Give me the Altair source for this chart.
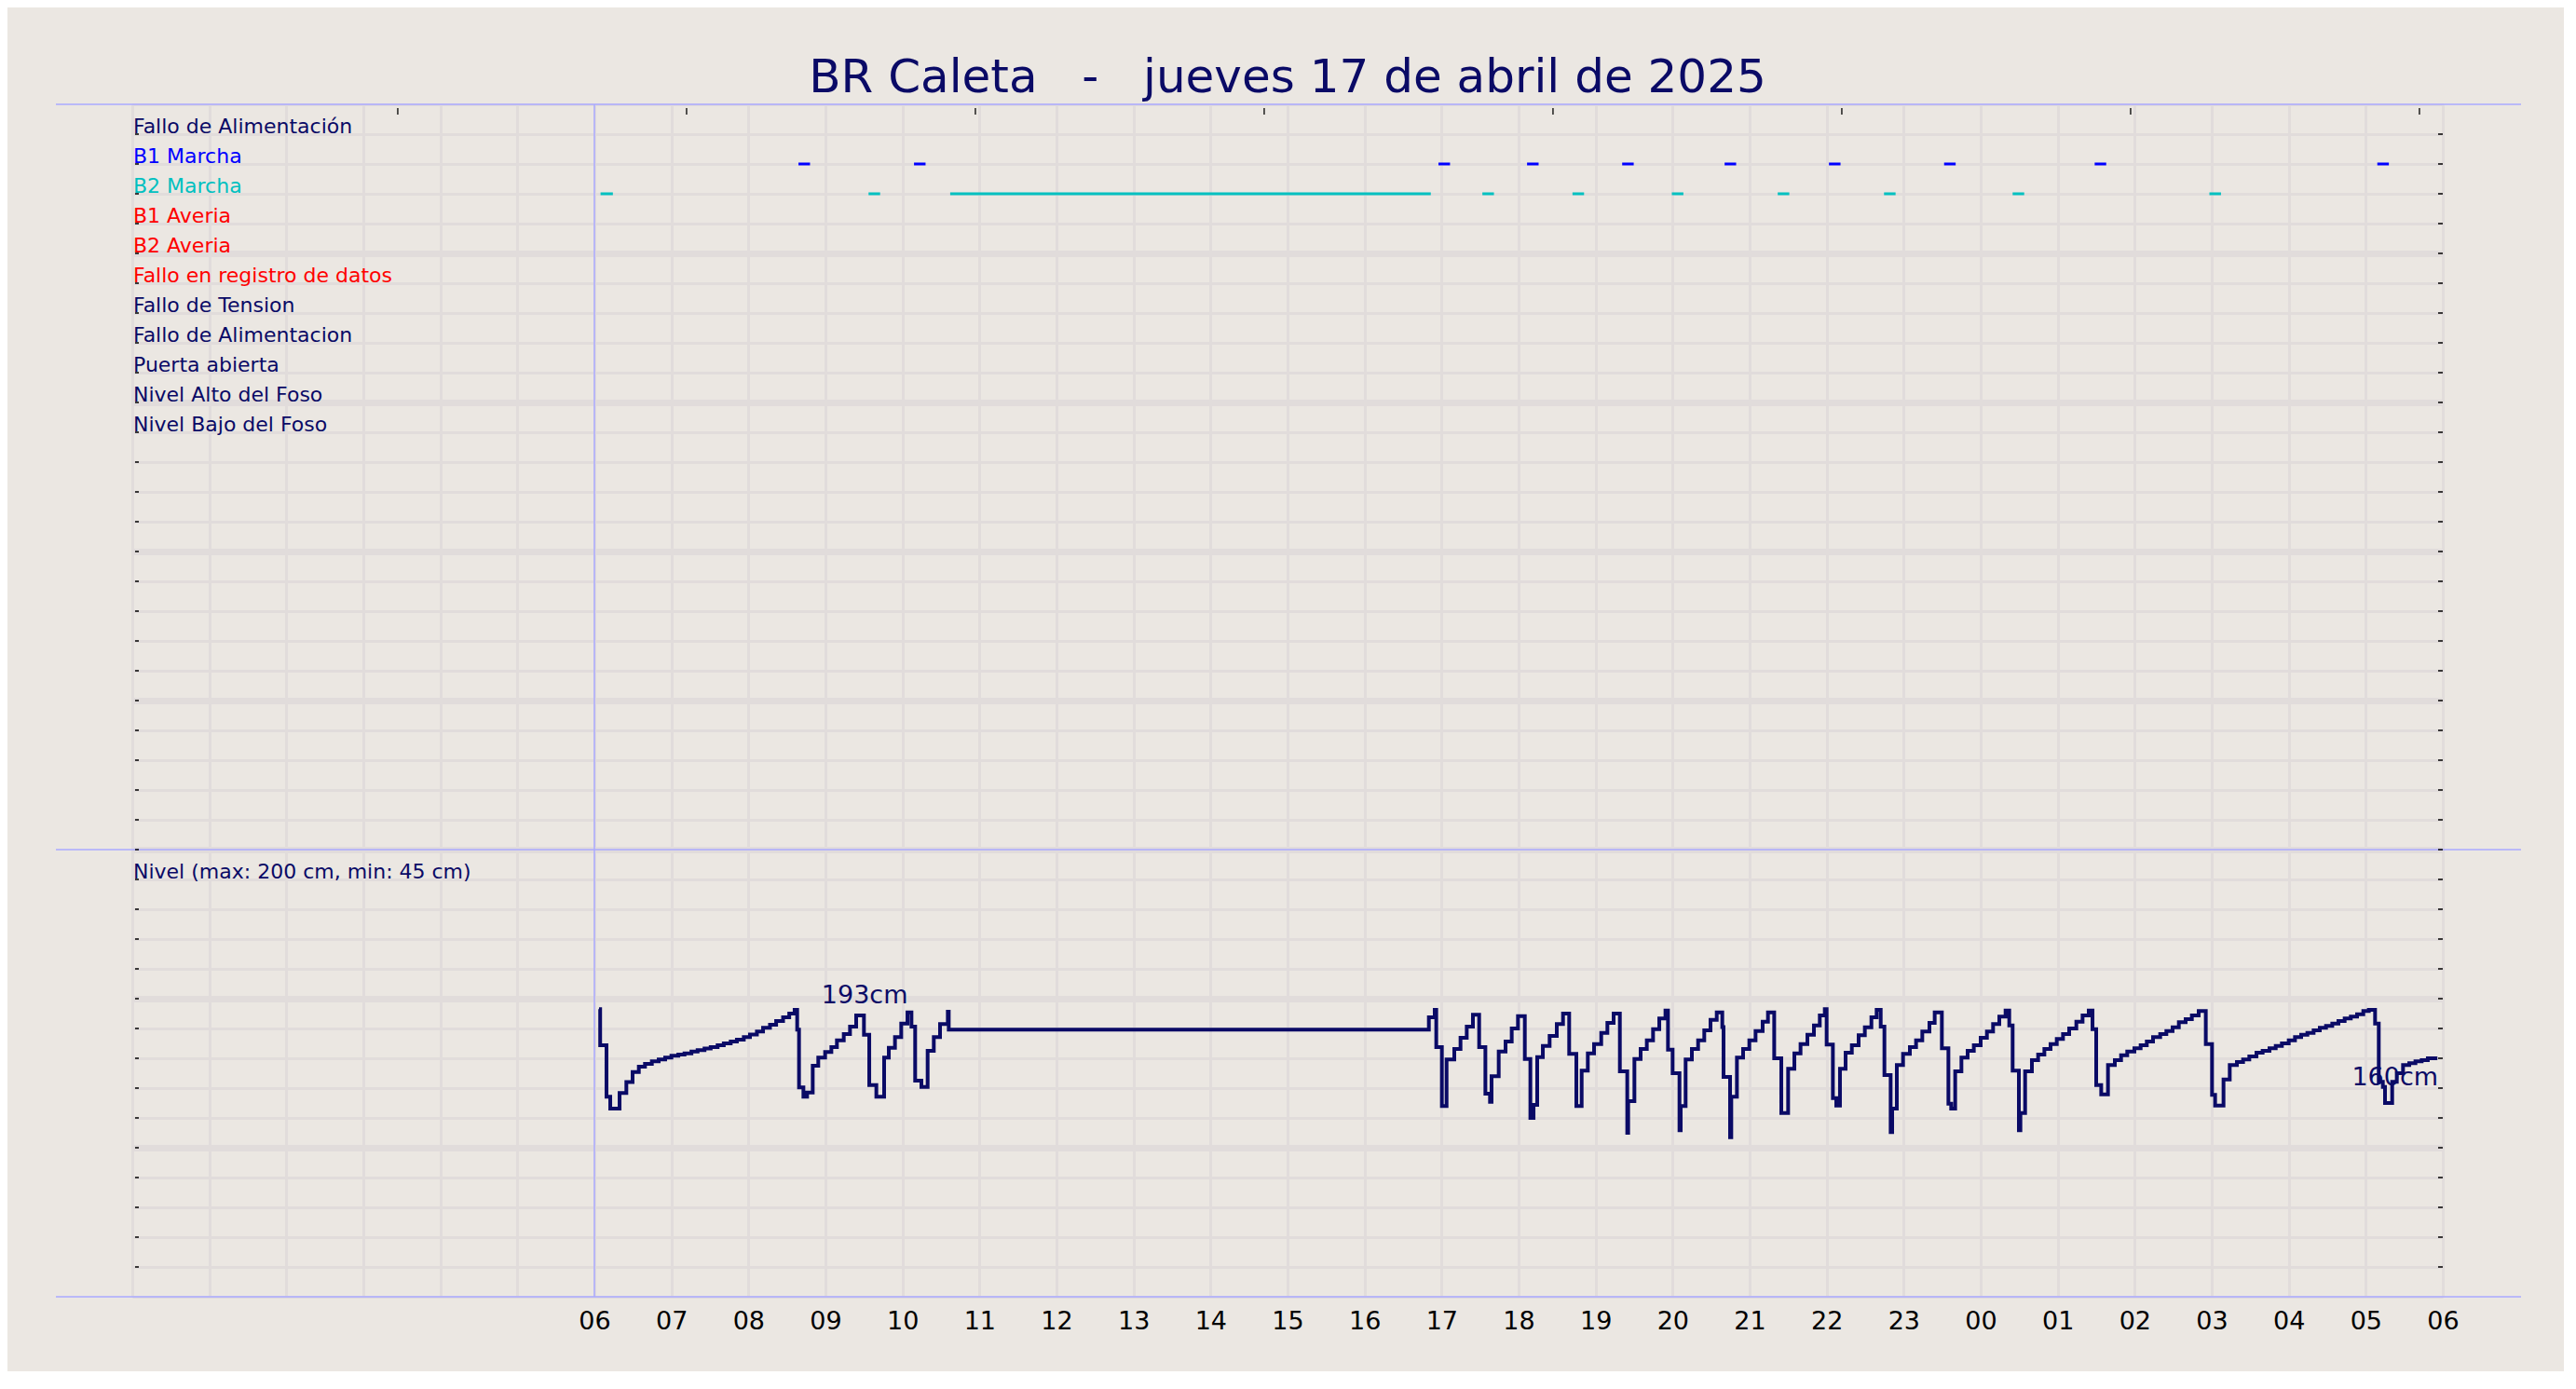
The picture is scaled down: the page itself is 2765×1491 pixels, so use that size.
import altair as alt
import pandas as pd

# ---------------- data ----------------
TITLE = "BR Caleta\u00a0\u00a0\u00a0-\u00a0\u00a0\u00a0jueves 17 de abril de 2025"

SIGNALS = ["Fallo de Alimentación", "B1 Marcha", "B2 Marcha", "B1 Averia", "B2 Averia",
           "Fallo en registro de datos", "Fallo de Tension", "Fallo de Alimentacion",
           "Puerta abierta", "Nivel Alto del Foso", "Nivel Bajo del Foso"]

LEVEL_TITLE = "Nivel (max: 200 cm, min: 45 cm)"

# pump runs (hours since 00:00 of 17/04)
B1_START = [8.65, 10.15, 16.96, 18.11, 19.345, 20.675, 22.03, 23.525, 25.48, 29.15]
B1_END = [8.80, 10.30, 17.11, 18.26, 19.495, 20.825, 22.18, 23.675, 25.63, 29.30]
B2_START = [6.08, 9.56, 10.62, 17.53, 18.70, 19.99, 21.365, 22.745, 24.415, 26.97]
B2_END = [6.24, 9.71, 16.86, 17.68, 18.85, 20.14, 21.515, 22.895, 24.565, 27.12]

# water level (cm), step breakpoints
LEVEL_HOUR = [
    6.06, 6.075, 6.157, 6.206, 6.327, 6.415, 6.496, 6.577, 6.657, 6.746, 6.835, 6.919, 7.0,
    7.09, 7.17, 7.26, 7.34, 7.43, 7.51, 7.60, 7.68, 7.77, 7.85, 7.94, 8.02, 8.11, 8.19, 8.28,
    8.36, 8.45, 8.53, 8.60,
    8.633, 8.657, 8.714, 8.762, 8.835, 8.907, 8.996, 9.077, 9.149, 9.238, 9.319, 9.399, 9.5,
    9.569, 9.661, 9.762, 9.823, 9.903, 9.984, 10.065, 10.117, 10.165, 10.246, 10.327, 10.407,
    10.488, 10.589, 10.601,
    16.835, 16.911, 16.931, 17.004, 17.065, 17.165, 17.246, 17.327, 17.407, 17.488, 17.569,
    17.629, 17.649, 17.742, 17.831, 17.911, 17.992, 18.081, 18.153, 18.194, 18.242, 18.315,
    18.403, 18.496, 18.577, 18.657, 18.75, 18.819, 18.899, 18.98, 19.073, 19.153, 19.234,
    19.315, 19.411, 19.423, 19.504, 19.585, 19.665, 19.746, 19.827, 19.907, 19.94, 20.0,
    20.089, 20.105, 20.169, 20.25, 20.331, 20.411, 20.492, 20.573, 20.645, 20.661, 20.746,
    20.762, 20.835, 20.915, 20.996, 21.077, 21.169, 21.238, 21.319, 21.411, 21.5, 21.581,
    21.661, 21.75, 21.835, 21.911, 21.976, 22.0, 22.081, 22.125, 22.173, 22.246, 22.327,
    22.415, 22.496, 22.581, 22.649, 22.702, 22.75, 22.831, 22.851, 22.911, 22.992, 23.081,
    23.161, 23.242, 23.335, 23.403, 23.496, 23.581, 23.617, 23.669, 23.75, 23.831, 23.911,
    24.0, 24.081, 24.161, 24.242, 24.323, 24.371, 24.415, 24.496, 24.516, 24.577, 24.665,
    24.746, 24.827, 24.907, 24.988, 25.069, 25.149, 25.242, 25.323, 25.403, 25.452, 25.5,
    25.565, 25.653, 25.742, 25.823, 25.903, 25.996, 26.077, 26.157, 26.238, 26.331, 26.411,
    26.492, 26.573, 26.661, 26.742, 26.831, 26.923, 27.004, 27.044, 27.153, 27.234, 27.327,
    27.407, 27.488, 27.581, 27.661, 27.75, 27.831, 27.911, 28.0, 28.081, 28.161, 28.242,
    28.323, 28.403, 28.484, 28.565, 28.645, 28.726, 28.806, 28.887, 28.968, 29.04, 29.121,
    29.169, 29.222, 29.25, 29.343, 29.403, 29.484, 29.565, 29.645, 29.726, 29.806, 29.93,
]
LEVEL_CM = [
    193.0, 168.8, 134.2, 126.3, 136.7, 144.0, 150.8, 154.4, 156.3, 157.9, 159.2, 160.4, 161.7,
    162.5, 163.3, 164.6, 165.4, 166.5, 167.5, 168.8, 170.0, 171.3, 172.5, 174.2, 176.0, 178.0,
    180.4, 182.5, 185.0, 187.5, 190.0, 192.5,
    179.2, 140.4, 134.2, 137.1, 155.0, 160.4, 164.2, 167.5, 172.1, 176.3, 181.3, 188.8, 175.8,
    142.1, 134.2, 160.4, 167.1, 174.2, 183.3, 190.8, 181.3, 145.0, 140.8, 165.0, 174.2,
    182.9, 191.3, 179.2,
    187.5, 192.5, 167.5, 128.0, 159.2, 166.3, 173.8, 181.3, 189.2, 167.5, 136.3,
    130.8, 148.0, 164.6, 171.3, 180.0, 188.3, 159.6, 120.0, 128.8, 160.8, 168.3,
    175.0, 182.9, 190.0, 162.9, 128.0, 151.7, 163.3, 169.6, 177.1, 183.8, 190.0,
    151.3, 110.0, 131.3, 159.6, 166.3, 172.1, 179.6, 186.7, 192.1, 165.8, 150.0,
    111.7, 128.0, 159.2, 166.3, 172.1, 178.8, 185.8, 190.8, 181.0, 147.5, 107.1,
    134.2, 160.4, 166.3, 172.1, 178.3, 184.6, 190.8, 160.0, 123.3, 152.9, 163.3,
    169.6, 175.8, 182.1, 188.8, 192.9, 169.2, 133.3, 128.3, 152.9, 163.8, 168.8,
    175.4, 180.8, 187.5, 192.5, 181.3, 148.8, 110.4, 126.3, 155.4, 162.9, 167.5,
    172.1, 177.9, 183.8, 190.8, 166.7, 129.6, 126.3, 151.3, 160.4, 165.0, 168.8,
    173.8, 177.9, 182.9, 187.9, 192.1, 182.1, 151.7, 111.7, 123.3, 151.3, 158.8,
    162.5, 166.3, 169.6, 172.9, 176.3, 180.0, 184.6, 188.8, 192.1, 179.6, 142.1,
    135.8, 155.4, 158.8, 162.1, 164.6, 166.7, 168.8, 171.3, 174.2, 176.3, 178.3,
    180.8, 184.2, 186.3, 188.8, 191.7, 169.6, 135.4, 128.3, 145.8, 155.4, 157.5,
    159.2, 161.3, 163.8, 165.0, 166.7, 168.3, 170.0, 172.1, 174.2, 175.8, 177.1,
    178.8, 180.4, 181.7, 183.3, 185.0, 186.7, 187.9, 189.6, 191.7, 192.5, 183.3,
    144.2, 140.8, 130.0, 144.2, 150.0, 155.4, 156.7, 157.9, 158.8, 160.0, 160.0,
]

ANNOT_TEXT = ["193cm", "160cm"]
ANNOT_HOUR = [9.51, 29.38]
ANNOT_CM = [196.7, 141.7]

DAY_START = [6]
TOP_TICKS = [3.447, 7.197, 10.947, 14.697, 18.447, 22.197, 25.947, 29.697]

# ---------------- styles ----------------
NAVY = "#0a0a66"
BLUE = "#0000ff"
CYAN = "#00c0c0"
RED = "#ff0000"
SIGNAL_COLORS = [NAVY, BLUE, CYAN, RED, RED, RED, NAVY, NAVY, NAVY, NAVY, NAVY]
BG = "#ebe7e2"
GRID = "#e1dcdb"
LAV = "#aaaaff"
FONT = "DejaVu Sans"

W, H = 2480, 1280
N_ROWS = 40

x_scale = alt.Scale(domain=[0, 30], nice=False, zero=False)
row_scale = alt.Scale(domain=[0, N_ROWS], range=[0, H], nice=False, zero=False)
cm_scale = alt.Scale(domain=[0, 300], range=[H, H * 25 / 40], nice=False, zero=False)
color_scale = alt.Scale(domain=SIGNALS, range=SIGNAL_COLORS)

# ---------------- tables ----------------
labels_df = pd.DataFrame({"signal": SIGNALS, "row": list(range(1, len(SIGNALS) + 1))})

ev_rows = []
for s, e in zip(B1_START, B1_END):
    ev_rows.append({"signal": "B1 Marcha", "row": 2, "start": s, "end": e})
for s, e in zip(B2_START, B2_END):
    ev_rows.append({"signal": "B2 Marcha", "row": 3, "start": s, "end": e})
ev_df = pd.DataFrame(ev_rows)

level_df = pd.DataFrame({"h": LEVEL_HOUR, "cm": LEVEL_CM})
annot_df = pd.DataFrame({"t": ANNOT_TEXT, "h": ANNOT_HOUR, "cm": ANNOT_CM})

# ---------------- layers ----------------
grid_width = {"condition": {"test": "datum.value % 5 === 0 && datum.value > 0 && datum.value < 40",
                            "value": 7}, "value": 3}

labels = alt.Chart(labels_df).mark_text(
    align="left", baseline="alphabetic", fontSize=22, font=FONT, dy=-1
).encode(
    x=alt.value(1),
    y=alt.Y("row:Q", scale=row_scale,
            axis=alt.Axis(values=list(range(N_ROWS + 1)), grid=True, gridColor=GRID,
                          gridWidth=grid_width, labels=False, ticks=False, domain=False,
                          title=None)),
    text="signal:N",
    color=alt.Color("signal:N", scale=color_scale, legend=None),
)

level_title = alt.Chart(pd.DataFrame({"t": [LEVEL_TITLE], "row": [26]})).mark_text(
    align="left", baseline="alphabetic", fontSize=22, font=FONT, dy=-1, color=NAVY
).encode(x=alt.value(1), y=alt.Y("row:Q", scale=row_scale, axis=None), text="t:N")

x_axis = alt.Axis(
    values=list(range(31)), grid=True, gridColor=GRID, gridWidth=3, ticks=False, tickSize=0,
    domain=False, title=None, labelFontSize=27, labelFont=FONT, labelColor="black",
    labelPadding=13, labelFlush=False, labelOverlap=False,
    labelExpr="datum.value < 6 ? '' : ((datum.value % 24) < 10 ? '0' + (datum.value % 24) : '' + (datum.value % 24))",
)

# the x axis (and its vertical grid) lives on this layer, whose y scale spans the full height
events = alt.Chart(ev_df).mark_rule(strokeWidth=3).encode(
    x=alt.X("start:Q", scale=x_scale, axis=x_axis),
    x2="end:Q",
    y=alt.Y("row:Q", scale=row_scale, axis=None),
    color=alt.Color("signal:N", scale=color_scale, legend=None),
)

level = alt.Chart(level_df).mark_line(interpolate="step-after", color=NAVY, strokeWidth=4).encode(
    x=alt.X("h:Q", scale=x_scale, axis=None),
    y=alt.Y("cm:Q", scale=cm_scale, axis=None),
)

annots = alt.Chart(annot_df).mark_text(
    align="center", baseline="alphabetic", fontSize=27, font=FONT, color=NAVY
).encode(
    x=alt.X("h:Q", scale=x_scale, axis=None),
    y=alt.Y("cm:Q", scale=cm_scale, axis=None),
    text="t:N",
)

sep_lines = alt.Chart(pd.DataFrame({"row": [0, 25, N_ROWS]})).mark_rule(
    color=LAV, strokeWidth=1.5
).encode(x=alt.value(-82), x2=alt.value(W + 84), y=alt.Y("row:Q", scale=row_scale, axis=None))

day_line = alt.Chart(pd.DataFrame({"h": DAY_START})).mark_rule(color=LAV, strokeWidth=1.5).encode(
    x=alt.X("h:Q", scale=x_scale, axis=None), y=alt.value(0), y2=alt.value(H)
)

top_ticks = alt.Chart(pd.DataFrame({"h": TOP_TICKS})).mark_rule(color="black", strokeWidth=1.3).encode(
    x=alt.X("h:Q", scale=x_scale, axis=None), y=alt.value(4), y2=alt.value(11)
)

side_rows = pd.DataFrame({"row": list(range(1, N_ROWS))})
left_ticks = alt.Chart(side_rows).mark_rule(color="black", strokeWidth=1.5).encode(
    x=alt.value(3), x2=alt.value(7), y=alt.Y("row:Q", scale=row_scale, axis=None)
)
right_ticks = alt.Chart(side_rows).mark_rule(color="black", strokeWidth=1.5).encode(
    x=alt.value(W - 5), x2=alt.value(W), y=alt.Y("row:Q", scale=row_scale, axis=None)
)

title = alt.Chart(pd.DataFrame({"t": [TITLE]})).mark_text(
    align="center", baseline="alphabetic", fontSize=50, font=FONT, color=NAVY
).encode(x=alt.value(W / 2), y=alt.value(-13), text="t:N")

chart = alt.layer(
    events, labels, level_title, sep_lines, day_line, top_ticks, left_ticks, right_ticks,
    level, annots, title
).resolve_scale(y="independent").resolve_axis(x="independent", y="independent").properties(
    width=W, height=H,
    autosize=alt.AutoSizeParams(type="none"),
    padding={"left": 134, "top": 104, "right": 130, "bottom": 80},
    background=BG,
).configure_view(strokeWidth=0).configure(font=FONT)

chart.save("out.html", embed_options={"renderer": "svg", "actions": False})
